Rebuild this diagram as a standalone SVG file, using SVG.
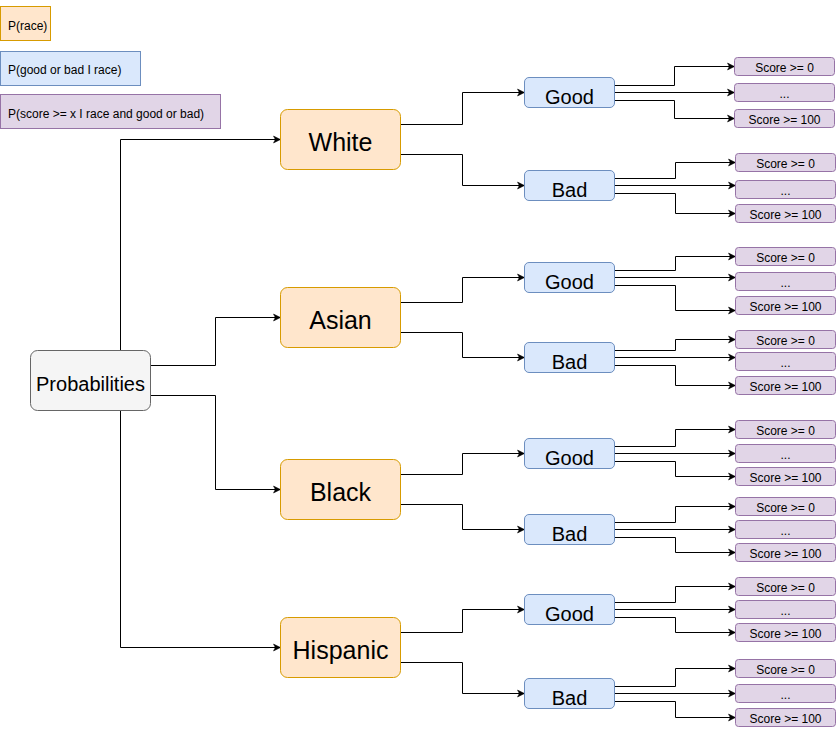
<svg xmlns="http://www.w3.org/2000/svg" width="836" height="730" viewBox="0 0 836 730">
<style>
text{font-family:"Liberation Sans",Arial,Helvetica,sans-serif;fill:#000}
.race rect{fill:#ffe6cc;stroke:#d79b00;stroke-width:1}
.gb rect{fill:#dae8fc;stroke:#6c8ebf;stroke-width:1}
.sc rect{fill:#e1d5e7;stroke:#9673a6;stroke-width:1}
.root rect{fill:#f5f5f5;stroke:#666666;stroke-width:1}
.race text{font-size:25px;text-anchor:middle}
.gb text{font-size:20px;text-anchor:middle}
.sc text{font-size:12px;text-anchor:middle}
.root text{font-size:20px;text-anchor:middle}
.leg text{font-size:12px}
#connectors path{fill:none;stroke:#000;stroke-width:1;marker-end:url(#arr)}
</style>
<defs>
<marker id="arr" markerUnits="userSpaceOnUse" markerWidth="10" markerHeight="10" refX="7" refY="4" orient="auto" overflow="visible">
<path d="M0,0.5 L7,4 L0,7.5 L1.8,4 z" fill="#000" stroke="#000" stroke-width="0.5"/>
</marker>
</defs>
<rect width="836" height="730" fill="#ffffff"/>

<g id="legend-race" class="leg race"><rect x="0.5" y="6.5" width="50" height="34"/><text x="8" y="29.5" style="font-size:12px;text-anchor:start">P(race)</text></g>
<g id="legend-goodbad" class="leg gb"><rect x="0.5" y="51.5" width="140" height="34"/><text x="8" y="73.5" style="font-size:12px;text-anchor:start">P(good or bad I race)</text></g>
<g id="legend-score" class="leg sc"><rect x="0.5" y="94.5" width="220" height="34"/><text x="8" y="117.5" style="font-size:12px;text-anchor:start">P(score &gt;= x I race and good or bad)</text></g>

<g id="connectors">
<path d="M120.5,350.5 V139.5 H280.5"/>
<path d="M150.5,365.5 H215.5 V317.5 H280.5"/>
<path d="M150.5,395.5 H215.5 V489.5 H280.5"/>
<path d="M120.5,410.5 V647.5 H280.5"/>

<path d="M400.5,124.5 H462.5 V92.5 H524.5"/>
<path d="M400.5,154.5 H462.5 V185.5 H524.5"/>
<path d="M400.5,302.5 H462.5 V277.5 H524.5"/>
<path d="M400.5,332.5 H462.5 V357.5 H524.5"/>
<path d="M400.5,474.5 H462.5 V453.5 H524.5"/>
<path d="M400.5,504.5 H462.5 V529.5 H524.5"/>
<path d="M400.5,632.5 H462.5 V609.5 H524.5"/>
<path d="M400.5,662.5 H462.5 V693.5 H524.5"/>

<path d="M614.5,85.5 H674.5 V66.5 H734.5"/>
<path d="M614.5,92.5 H734.5"/>
<path d="M614.5,100.5 H674.5 V118.5 H734.5"/>
<path d="M614.5,178.5 H675.5 V162.5 H735.5"/>
<path d="M614.5,185.5 H735.5"/>
<path d="M614.5,193.5 H675.5 V213.5 H735.5"/>

<path d="M614.5,270.5 H675.5 V256.5 H735.5"/>
<path d="M614.5,277.5 H735.5"/>
<path d="M614.5,285.5 H675.5 V310.5 H735.5"/>
<path d="M614.5,350.5 H675.5 V339.5 H735.5"/>
<path d="M614.5,357.5 H735.5"/>
<path d="M614.5,365.5 H675.5 V385.5 H735.5"/>

<path d="M614.5,446.5 H675.5 V429.5 H735.5"/>
<path d="M614.5,453.5 H735.5"/>
<path d="M614.5,461.5 H675.5 V476.5 H735.5"/>
<path d="M614.5,522.5 H675.5 V506.5 H735.5"/>
<path d="M614.5,529.5 H735.5"/>
<path d="M614.5,537.5 H675.5 V552.5 H735.5"/>

<path d="M614.5,602.5 H675.5 V586.5 H735.5"/>
<path d="M614.5,609.5 H735.5"/>
<path d="M614.5,617.5 H675.5 V632.5 H735.5"/>
<path d="M614.5,686.5 H675.5 V668.5 H735.5"/>
<path d="M614.5,693.5 H735.5"/>
<path d="M614.5,701.5 H675.5 V717.5 H735.5"/>
</g>

<g id="probabilities" class="root"><rect x="30.5" y="350.5" width="120" height="60" rx="7"/><text x="90.5" y="390.5">Probabilities</text></g>

<g id="white" class="race"><rect x="280.5" y="109.5" width="120" height="60" rx="7"/><text x="340.5" y="151">White</text></g>
<g id="asian" class="race"><rect x="280.5" y="287.5" width="120" height="60" rx="7"/><text x="340.5" y="329">Asian</text></g>
<g id="black" class="race"><rect x="280.5" y="459.5" width="120" height="60" rx="7"/><text x="340.5" y="501">Black</text></g>
<g id="hispanic" class="race"><rect x="280.5" y="617.5" width="120" height="60" rx="7"/><text x="340.5" y="659">Hispanic</text></g>

<g id="white-good" class="gb"><rect x="524.5" y="77.5" width="90" height="30" rx="4.5"/><text x="569.5" y="104">Good</text></g>
<g id="white-bad" class="gb"><rect x="524.5" y="170.5" width="90" height="30" rx="4.5"/><text x="569.5" y="197">Bad</text></g>
<g id="asian-good" class="gb"><rect x="524.5" y="262.5" width="90" height="30" rx="4.5"/><text x="569.5" y="289">Good</text></g>
<g id="asian-bad" class="gb"><rect x="524.5" y="342.5" width="90" height="30" rx="4.5"/><text x="569.5" y="369">Bad</text></g>
<g id="black-good" class="gb"><rect x="524.5" y="438.5" width="90" height="30" rx="4.5"/><text x="569.5" y="465">Good</text></g>
<g id="black-bad" class="gb"><rect x="524.5" y="514.5" width="90" height="30" rx="4.5"/><text x="569.5" y="541">Bad</text></g>
<g id="hispanic-good" class="gb"><rect x="524.5" y="594.5" width="90" height="30" rx="4.5"/><text x="569.5" y="621">Good</text></g>
<g id="hispanic-bad" class="gb"><rect x="524.5" y="678.5" width="90" height="30" rx="4.5"/><text x="569.5" y="705">Bad</text></g>

<g id="wg-s0" class="sc"><rect x="734.5" y="57.5" width="100" height="18" rx="3"/><text x="784.5" y="71.5">Score &gt;= 0</text></g>
<g id="wg-mid" class="sc"><rect x="734.5" y="83.5" width="100" height="18" rx="3"/><text x="784.5" y="97.5">...</text></g>
<g id="wg-s100" class="sc"><rect x="734.5" y="109.5" width="100" height="18" rx="3"/><text x="784.5" y="123.5">Score &gt;= 100</text></g>
<g id="wb-s0" class="sc"><rect x="735.5" y="153.5" width="100" height="18" rx="3"/><text x="785.5" y="167.5">Score &gt;= 0</text></g>
<g id="wb-mid" class="sc"><rect x="735.5" y="180.5" width="100" height="18" rx="3"/><text x="785.5" y="194.5">...</text></g>
<g id="wb-s100" class="sc"><rect x="735.5" y="204.5" width="100" height="18" rx="3"/><text x="785.5" y="218.5">Score &gt;= 100</text></g>

<g id="ag-s0" class="sc"><rect x="735.5" y="247.5" width="100" height="18" rx="3"/><text x="785.5" y="261.5">Score &gt;= 0</text></g>
<g id="ag-mid" class="sc"><rect x="735.5" y="272.5" width="100" height="18" rx="3"/><text x="785.5" y="286.5">...</text></g>
<g id="ag-s100" class="sc"><rect x="735.5" y="296.5" width="100" height="18" rx="3"/><text x="785.5" y="310.5">Score &gt;= 100</text></g>
<g id="ab-s0" class="sc"><rect x="735.5" y="330.5" width="100" height="18" rx="3"/><text x="785.5" y="344.5">Score &gt;= 0</text></g>
<g id="ab-mid" class="sc"><rect x="735.5" y="352.5" width="100" height="18" rx="3"/><text x="785.5" y="366.5">...</text></g>
<g id="ab-s100" class="sc"><rect x="735.5" y="376.5" width="100" height="18" rx="3"/><text x="785.5" y="390.5">Score &gt;= 100</text></g>

<g id="bg-s0" class="sc"><rect x="735.5" y="420.5" width="100" height="18" rx="3"/><text x="785.5" y="434.5">Score &gt;= 0</text></g>
<g id="bg-mid" class="sc"><rect x="735.5" y="444.5" width="100" height="18" rx="3"/><text x="785.5" y="458.5">...</text></g>
<g id="bg-s100" class="sc"><rect x="735.5" y="467.5" width="100" height="18" rx="3"/><text x="785.5" y="481.5">Score &gt;= 100</text></g>
<g id="bb-s0" class="sc"><rect x="735.5" y="497.5" width="100" height="18" rx="3"/><text x="785.5" y="511.5">Score &gt;= 0</text></g>
<g id="bb-mid" class="sc"><rect x="735.5" y="520.5" width="100" height="18" rx="3"/><text x="785.5" y="534.5">...</text></g>
<g id="bb-s100" class="sc"><rect x="735.5" y="543.5" width="100" height="18" rx="3"/><text x="785.5" y="557.5">Score &gt;= 100</text></g>

<g id="hg-s0" class="sc"><rect x="735.5" y="577.5" width="100" height="18" rx="3"/><text x="785.5" y="591.5">Score &gt;= 0</text></g>
<g id="hg-mid" class="sc"><rect x="735.5" y="600.5" width="100" height="18" rx="3"/><text x="785.5" y="614.5">...</text></g>
<g id="hg-s100" class="sc"><rect x="735.5" y="623.5" width="100" height="18" rx="3"/><text x="785.5" y="637.5">Score &gt;= 100</text></g>
<g id="hb-s0" class="sc"><rect x="735.5" y="659.5" width="100" height="18" rx="3"/><text x="785.5" y="673.5">Score &gt;= 0</text></g>
<g id="hb-mid" class="sc"><rect x="735.5" y="684.5" width="100" height="18" rx="3"/><text x="785.5" y="698.5">...</text></g>
<g id="hb-s100" class="sc"><rect x="735.5" y="708.5" width="100" height="18" rx="3"/><text x="785.5" y="722.5">Score &gt;= 100</text></g>
</svg>
